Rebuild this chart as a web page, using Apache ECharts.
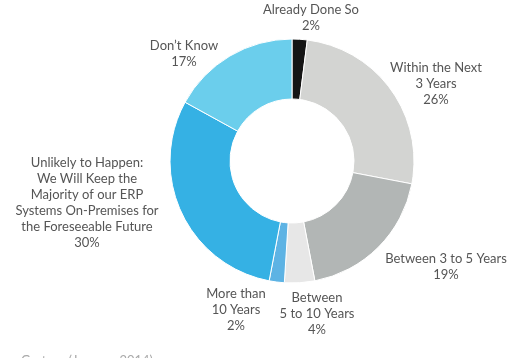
<!DOCTYPE html>
<html><head><meta charset="utf-8">
<script src="https://cdn.jsdelivr.net/npm/echarts@6/dist/echarts.min.js"></script>
<style>html,body{margin:0;padding:0;background:#fff}#c{width:510px;height:358px}</style>
</head><body><div id="c"></div>
<script>
const categories = [
  "Already Done So",
  "Within the Next\n3 Years",
  "Between 3 to 5 Years",
  "Between\n5 to 10 Years",
  "More than\n10 Years",
  "Unlikely to Happen:\nWe Will Keep the\nMajority of our ERP\nSystems On-Premises for\nthe Foreseeable Future",
  "Don\u2019t Know"
];
const values = [2, 26, 19, 4, 2, 30, 17];
const colors = ["#151515", "#d3d4d2", "#b2b6b5", "#e7e7e7", "#5db3e4", "#35b1e4", "#6bceec"];
const labelPos = [[311, 18], [436, 83.5], [446, 267], [317, 314], [236, 309.5], [87, 202.5], [184, 53.5]];
const source = "Gartner (January 2014)";

const chart = echarts.init(document.getElementById('c'));
chart.setOption({
  animation: false,
  title: {
    text: source, left: 21, top: 354, padding: 0,
    textStyle: { fontFamily: 'Lato', fontSize: 13, fontWeight: 'normal', color: '#aaa' }
  },
  series: [{
    type: 'pie',
    center: [292, 161],
    radius: [62, 122],
    startAngle: 90,
    clockwise: true,
    itemStyle: { borderColor: '#fff', borderWidth: 1 },
    label: {
      show: true, position: 'outside', overflow: 'none', alignTo: 'none',
      formatter: p => p.name + '\n' + p.value + '%',
      fontFamily: 'Lato', fontSize: 13, lineHeight: 16, color: '#555', align: 'center'
    },
    labelLine: { show: false },
    labelLayout: p => ({ x: labelPos[p.dataIndex][0], y: labelPos[p.dataIndex][1], align: 'center', verticalAlign: 'middle' }),
    emphasis: { disabled: true },
    data: categories.map((c, i) => ({ name: c, value: values[i], itemStyle: { color: colors[i] } }))
  }]
});
</script></body></html>
